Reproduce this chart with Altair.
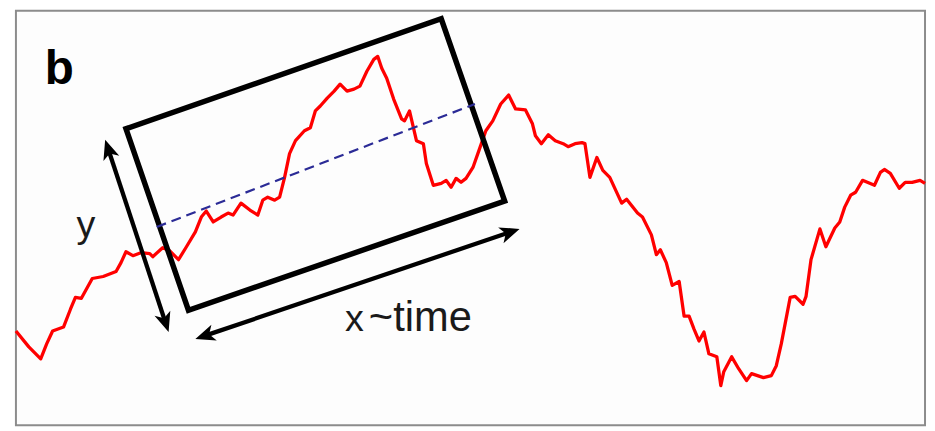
import math
import altair as alt
import pandas as pd

# ---- data (in picture coordinates: x right, y down) ----
walk_x = [16, 29, 41, 47, 53, 64, 71, 76, 82, 93, 104, 117, 122, 127, 134, 142, 151, 154,
          164, 171, 180, 188, 197, 203, 208, 215, 223, 230, 235, 243, 252, 260, 265, 270,
          277, 282, 287, 292, 298, 307, 313, 318, 323, 330, 337, 343, 350, 357, 363, 370,
          377, 381, 385, 390, 397, 405, 408, 413, 417, 420, 427, 430, 437, 445, 450, 455,
          460, 465, 470, 477, 483, 490, 497, 505, 513, 520, 530, 537, 540, 546, 553, 560,
          568, 573, 580, 587, 590, 595, 602, 608, 615, 627, 632, 643, 648, 657, 662, 666,
          672, 678, 685, 690, 695, 700, 705, 710, 715, 723, 727, 730, 738, 745, 753, 758,
          770, 778, 783, 788, 797, 802, 810, 813, 818, 827, 833, 842, 847, 852, 858, 863,
          870, 882, 888, 892, 898, 907, 913, 920, 928, 933]
walk_y = [332, 348, 360, 345, 332, 328, 310, 298, 299, 279, 277, 272, 263, 252, 256, 253, 254, 257,
          248, 251, 260, 247, 232, 217, 211, 222, 217, 213, 215, 203, 210, 215, 200, 197,
          200, 197, 177, 153, 140, 130, 127, 110, 105, 97, 90, 83, 90, 88, 85, 70,
          58, 55, 67, 77, 98, 118, 120, 110, 127, 140, 143, 163, 185, 183, 180, 187,
          178, 182, 178, 167, 150, 130, 120, 103, 94, 108, 109, 123, 135, 143, 134, 140,
          143, 146, 143, 142, 143, 177, 157, 170, 177, 203, 199, 213, 217, 235, 255, 250,
          263, 286, 282, 317, 317, 330, 342, 333, 355, 358, 387, 373, 358, 370, 382, 375,
          379, 377, 367, 345, 298, 297, 305, 297, 260, 229, 247, 228, 222, 207, 195, 192,
          180, 185, 172, 169, 173, 188, 182, 182, 180, 183]

box_x = [127, 445, 509, 190, 127]
box_y = [128, 17, 201, 311, 128]

trend_x = [158, 479]
trend_y = [227, 103]

# arrows: [tail, tip] pairs, double headed
y_arrow_x = [170, 106]
y_arrow_y = [333, 139]
x_arrow_x = [197, 524]
x_arrow_y = [340, 229]

frame_x = [16, 933]
frame_y = [9, 427]

# ---- scales mapping picture coordinates ----
W, H = 927, 423
xs = alt.Scale(domain=[8, 935], nice=False, zero=False)
ys = alt.Scale(domain=[8, 431], nice=False, zero=False, reverse=True)


def X(f="x"):
    return alt.X(f"{f}:Q", scale=xs, axis=None)


def Y(f="y"):
    return alt.Y(f"{f}:Q", scale=ys, axis=None)


frame_df = pd.DataFrame({"x": [frame_x[0]], "x2": [frame_x[1]], "y": [frame_y[0]], "y2": [frame_y[1]]})
frame = alt.Chart(frame_df).mark_rect(fill="#fdfdfd", stroke="#8c8c8c", strokeWidth=2).encode(
    x=X(), x2="x2:Q", y=Y(), y2="y2:Q")

walk_df = pd.DataFrame({"x": walk_x, "y": walk_y, "i": list(range(len(walk_x)))})
walk = alt.Chart(walk_df).mark_line(color="#ff0000", strokeWidth=3.3, strokeJoin="round").encode(
    x=X(), y=Y(), order="i:Q")

box_df = pd.DataFrame({"x": box_x, "y": box_y, "i": list(range(len(box_x)))})
box = alt.Chart(box_df).mark_line(color="black", strokeWidth=5.5, strokeJoin="miter",
                                   strokeCap="square").encode(x=X(), y=Y(), order="i:Q")

trend_df = pd.DataFrame({"x": trend_x, "y": trend_y})
trend = alt.Chart(trend_df).mark_line(color="#2b2b96", strokeWidth=2.2, strokeDash=[10, 6]).encode(
    x=X(), y=Y())

# arrow shafts (shortened under heads) and heads
shaft_rows, head_rows = [], []
for k, (ax, ay) in enumerate([(y_arrow_x, y_arrow_y), (x_arrow_x, x_arrow_y)]):
    x0, x1 = ax
    y0, y1 = ay
    L = math.hypot(x1 - x0, y1 - y0)
    ux, uy = (x1 - x0) / L, (y1 - y0) / L
    cut = 12
    shaft_rows.append({"x": x0 + ux * cut, "y": y0 + uy * cut,
                       "x2": x1 - ux * cut, "y2": y1 - uy * cut})
    for (tx, ty, dx, dy) in [(x1, y1, ux, uy), (x0, y0, -ux, -uy)]:
        ang = math.degrees(math.atan2(dx, -dy)) % 360
        head_rows.append({"x": tx, "y": ty, "angle": ang})

shaft = alt.Chart(pd.DataFrame(shaft_rows)).mark_rule(color="black", strokeWidth=4.3).encode(
    x=X(), y=Y(), x2="x2:Q", y2="y2:Q")

head_shape = "M0,0 L0.8,1.9 L0,1.4 L-0.8,1.9 Z"
heads = alt.Chart(pd.DataFrame(head_rows)).mark_point(
    shape=head_shape, filled=True, color="black", opacity=1, size=440, strokeWidth=0).encode(
    x=X(), y=Y(), angle=alt.Angle("angle:Q", scale=None))

# labels
lab_df = pd.DataFrame({"x": [77, 348, 372], "y": [237, 332, 332],
                       "t": ["y", "x", "~time"], "fs": [38, 38, 42]})
labels = alt.Chart(lab_df).mark_text(align="left", baseline="alphabetic", font="Liberation Sans",
                                     color="#1a1a1a").encode(
    x=X(), y=Y(), text="t:N", size=alt.Size("fs:Q", scale=None))

b_df = pd.DataFrame({"x": [45], "y": [83], "t": ["b"]})
blab = alt.Chart(b_df).mark_text(align="left", baseline="alphabetic", font="Liberation Sans",
                                 fontWeight="bold", fontSize=48, color="black").encode(
    x=X(), y=Y(), text="t:N")

chart = alt.layer(frame, walk, box, trend, shaft, heads, labels, blab).properties(
    width=W, height=H, autosize=alt.AutoSizeParams(type="none"), padding=0,
    background="white"
).configure_view(stroke=None)

chart.save("out.html", embed_options={"renderer": "svg", "actions": False})
